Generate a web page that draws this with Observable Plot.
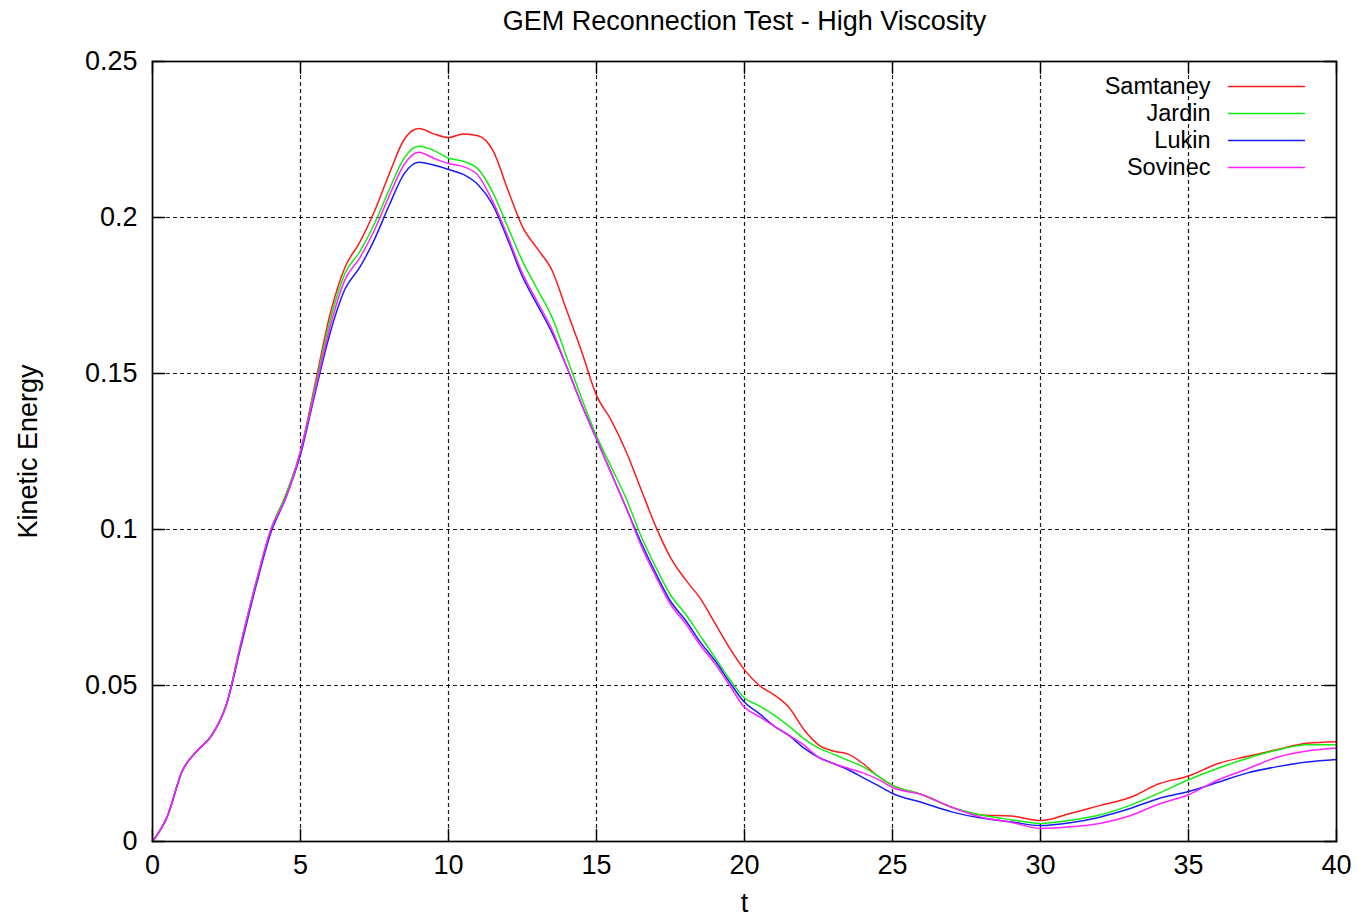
<!DOCTYPE html>
<html>
<head>
<meta charset="utf-8">
<script src="https://cdn.jsdelivr.net/npm/d3@7"></script>
<script src="https://cdn.jsdelivr.net/npm/@observablehq/plot@0.6"></script>
<style>
  html, body { margin: 0; padding: 0; background: #fff; }
  #chart { width: 1359px; height: 919px; }
</style>
</head>
<body>
<div id="chart"></div>
<script>
const titleText = "GEM Reconnection Test - High Viscosity";
const xLabel = "t";
const yLabel = "Kinetic Energy";
const seriesNames = ["Samtaney", "Jardin", "Lukin", "Sovinec"];
const seriesColors = ["#ff1a1a", "#11ee11", "#1a1aff", "#ff22ff"];
const xTicks = [0, 5, 10, 15, 20, 25, 30, 35, 40];
const yTicks = [0, 0.05, 0.1, 0.15, 0.2, 0.25];
const yTickLabels = ["0", "0.05", "0.1", "0.15", "0.2", "0.25"];

const t = [0, 0.5, 1, 1.5, 2, 2.5, 3, 3.5, 4, 4.5, 5, 5.5, 6, 6.5, 7, 7.5, 8, 8.5, 9, 9.5,
  10, 10.5, 11, 11.5, 12, 12.5, 13, 13.5, 14, 14.5, 15, 15.5, 16, 16.5, 17, 17.5, 18, 18.5, 19, 19.5,
  20, 20.5, 21, 21.5, 22, 22.5, 23, 23.5, 24, 24.5, 25, 26, 27, 28, 29, 30, 31, 32, 33, 34, 35, 36, 37, 38, 39, 40];

const samtaney = [0, 0.008, 0.0225, 0.029, 0.034, 0.044, 0.064, 0.083, 0.100, 0.111, 0.125, 0.147, 0.169, 0.184, 0.192, 0.202, 0.214, 0.225, 0.2285, 0.2268,
  0.2256, 0.2268, 0.2262, 0.2215, 0.209, 0.197, 0.190, 0.183, 0.170, 0.157, 0.143, 0.135, 0.125, 0.113, 0.101, 0.091, 0.084, 0.078, 0.070, 0.062,
  0.055, 0.050, 0.047, 0.043, 0.036, 0.031, 0.029, 0.028, 0.025, 0.021, 0.018, 0.015, 0.011, 0.0085, 0.0082, 0.0067, 0.009, 0.0115, 0.014, 0.0185, 0.021, 0.025, 0.0273, 0.0295, 0.0315, 0.032];
const jardin = [0, 0.008, 0.0225, 0.029, 0.034, 0.044, 0.064, 0.083, 0.100, 0.111, 0.125, 0.146, 0.167, 0.182, 0.189, 0.198, 0.209, 0.219, 0.2228, 0.2215,
  0.219, 0.218, 0.2155, 0.208, 0.197, 0.186, 0.177, 0.168, 0.155, 0.142, 0.130, 0.120, 0.110, 0.098, 0.088, 0.079, 0.073, 0.066, 0.059, 0.052,
  0.046, 0.0435, 0.0405, 0.037, 0.033, 0.030, 0.028, 0.026, 0.024, 0.021, 0.018, 0.015, 0.011, 0.0085, 0.007, 0.0058, 0.0068, 0.0085, 0.0115, 0.0155, 0.0198, 0.0235, 0.0267, 0.0293, 0.031, 0.031];
const lukin = [0, 0.008, 0.0225, 0.029, 0.034, 0.044, 0.063, 0.082, 0.099, 0.110, 0.124, 0.144, 0.163, 0.177, 0.184, 0.193, 0.204, 0.214, 0.2177, 0.2168,
  0.2154, 0.2138, 0.2105, 0.204, 0.193, 0.181, 0.172, 0.163, 0.152, 0.140, 0.129, 0.118, 0.107, 0.096, 0.086, 0.077, 0.071, 0.064, 0.058, 0.051,
  0.0446, 0.041, 0.037, 0.034, 0.030, 0.027, 0.025, 0.023, 0.0205, 0.018, 0.0154, 0.0125, 0.0095, 0.0075, 0.0063, 0.0051, 0.006, 0.0078, 0.0105, 0.0138, 0.016, 0.019, 0.022, 0.024, 0.0255, 0.0263];
const sovinec = [0, 0.008, 0.0225, 0.029, 0.034, 0.044, 0.064, 0.083, 0.100, 0.110, 0.125, 0.145, 0.165, 0.180, 0.187, 0.196, 0.207, 0.217, 0.2209, 0.219,
  0.2173, 0.2163, 0.2135, 0.205, 0.194, 0.182, 0.173, 0.164, 0.152, 0.140, 0.129, 0.118, 0.107, 0.095, 0.085, 0.076, 0.070, 0.063, 0.057, 0.050,
  0.043, 0.040, 0.037, 0.034, 0.031, 0.027, 0.025, 0.0235, 0.022, 0.020, 0.0173, 0.015, 0.011, 0.0078, 0.0062, 0.0042, 0.0047, 0.0058, 0.0082, 0.012, 0.015, 0.0197, 0.0233, 0.027, 0.029, 0.030];

const seriesValues = [samtaney, jardin, lukin, sovinec];
const data = seriesNames.flatMap((name, i) => t.map((tv, j) => ({t: tv, ke: seriesValues[i][j], series: name})));

const FONT = "'Liberation Sans', Arial, sans-serif";
const FS = 27;
const LEGEND_FS = 23.5;

const tickShape = {draw(context, l) { context.moveTo(0, 0); context.lineTo(0, -l); }};
const TICK = 12;

const legendMarks = seriesNames.flatMap((name, i) => [
  Plot.text([name], {text: d => d, frameAnchor: "top-right", dx: -126, dy: 25 + 27 * i, textAnchor: "end", lineAnchor: "middle", fontSize: LEGEND_FS, fill: "#000"}),
  Plot.vector([name], {frameAnchor: "top-right", dx: -32, dy: 25 + 27 * i, rotate: 90, anchor: "end", length: 76, shape: tickShape, stroke: seriesColors[i], strokeWidth: 1.5})
]);

const chart = Plot.plot({
  width: 1359,
  height: 919,
  marginLeft: 152,
  marginRight: 23,
  marginTop: 61,
  marginBottom: 78,
  style: {fontFamily: FONT, background: "#fff", color: "#000", overflow: "visible"},
  x: {domain: [0, 40]},
  y: {domain: [0, 0.25]},
  color: {domain: seriesNames, range: seriesColors},
  marks: [
    Plot.ruleX(xTicks.slice(1, -1), {stroke: "#000", strokeWidth: 1.2, strokeDasharray: "4,3", strokeOpacity: 0.9}),
    Plot.ruleY(yTicks.slice(1, -1), {stroke: "#000", strokeWidth: 1.2, strokeDasharray: "4,3", strokeOpacity: 0.9}),
    Plot.vector(xTicks, {x: d => d, frameAnchor: "bottom", rotate: 0, anchor: "start", length: TICK, shape: tickShape, stroke: "#000", strokeWidth: 1.4}),
    Plot.vector(xTicks, {x: d => d, frameAnchor: "top", rotate: 180, anchor: "start", length: TICK, shape: tickShape, stroke: "#000", strokeWidth: 1.4}),
    Plot.vector(yTicks, {y: d => d, frameAnchor: "left", rotate: 90, anchor: "start", length: TICK, shape: tickShape, stroke: "#000", strokeWidth: 1.4}),
    Plot.vector(yTicks, {y: d => d, frameAnchor: "right", rotate: -90, anchor: "start", length: TICK, shape: tickShape, stroke: "#000", strokeWidth: 1.4}),
    Plot.axisX(xTicks, {tickSize: 0, tickPadding: 13, fontSize: FS, label: null, tickFormat: d => String(d)}),
    Plot.axisY(yTicks, {tickSize: 0, tickPadding: 15, fontSize: FS, label: null, tickFormat: (d, i) => yTickLabels[i]}),
    Plot.line(data, {x: "t", y: "ke", z: "series", stroke: "series", strokeWidth: 1.5, curve: "monotone-x"}),
    Plot.frame({stroke: "#000", strokeWidth: 1.7}),
    ...legendMarks,
    Plot.text([titleText], {text: d => d, frameAnchor: "top", dy: -40, textAnchor: "middle", lineAnchor: "middle", fontSize: FS, fill: "#000"}),
    Plot.text([xLabel], {text: d => d, frameAnchor: "bottom", dy: 62, textAnchor: "middle", lineAnchor: "middle", fontSize: FS, fill: "#000"}),
    Plot.text([yLabel], {text: d => d, frameAnchor: "left", dx: -124, rotate: -90, textAnchor: "middle", lineAnchor: "middle", fontSize: FS, fill: "#000"})
  ]
});
document.getElementById("chart").appendChild(chart);
</script>
</body>
</html>
